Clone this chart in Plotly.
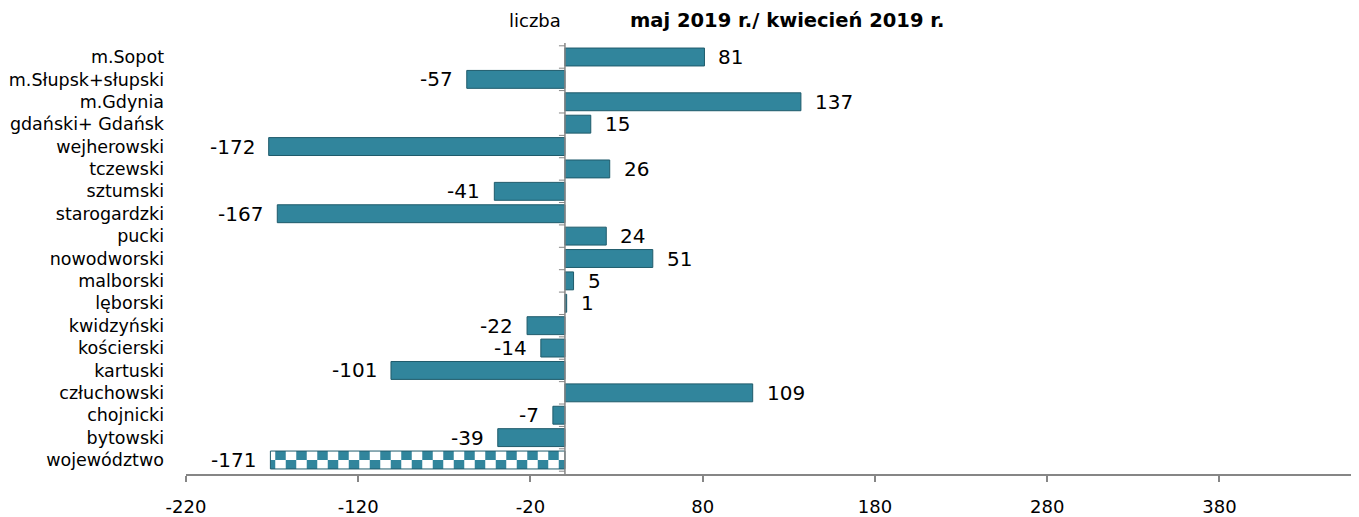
import plotly.graph_objects as go

categories = ["m.Sopot", "m.Słupsk+słupski", "m.Gdynia", "gdański+ Gdańsk", "wejherowski",
              "tczewski", "sztumski", "starogardzki", "pucki", "nowodworski", "malborski",
              "lęborski", "kwidzyński", "kościerski", "kartuski", "człuchowski", "chojnicki",
              "bytowski", "województwo"]
values = [81, -57, 137, 15, -172, 26, -41, -167, 24, 51, 5, 1, -22, -14, -101, 109, -7, -39, -171]
x_ticks = [-220, -120, -20, 80, 180, 280, 380]
title_text = "maj 2019 r./ kwiecień 2019 r."
unit_text = "liczba"

TEAL = "#31859C"
EDGE = "#1F5B6B"
GRAY = "#868686"
FONT = "DejaVu Sans"

# page has an 8px body margin; figure coordinates are page coordinates minus 8
W, H = 1351, 509
ML, MR, MT, MB = 177.5, 0, 34.6, 42.6
PW, PH = W - ML - MR, H - MT - MB
BW = 0.8  # bar thickness in category units

fig = go.Figure()
fig.add_trace(go.Bar(
    y=categories[:-1], x=values[:-1], orientation="h", width=BW,
    marker=dict(color=TEAL, line=dict(color=EDGE, width=1)),
    showlegend=False, hoverinfo="x+y",
))
# checkerboard total bar: two half-height striped bars with swapped colours
fig.add_trace(go.Bar(
    y=categories[-1:], x=values[-1:], orientation="h", width=BW / 2, offset=-BW / 2,
    marker=dict(color=TEAL, line=dict(width=0),
                pattern=dict(shape="|", fgcolor=TEAL, bgcolor="white", size=21,
                             solidity=0.5, fillmode="replace")),
    showlegend=False, hoverinfo="x+y",
))
fig.add_trace(go.Bar(
    y=categories[-1:], x=values[-1:], orientation="h", width=BW / 2, offset=0,
    marker=dict(color=TEAL, line=dict(width=0),
                pattern=dict(shape="|", fgcolor="white", bgcolor=TEAL, size=21,
                             solidity=0.5, fillmode="replace")),
    showlegend=False, hoverinfo="skip",
))
fig.add_trace(go.Bar(
    y=categories[-1:], x=values[-1:], orientation="h", width=BW,
    marker=dict(color="rgba(0,0,0,0)", line=dict(color=EDGE, width=1)),
    showlegend=False, hoverinfo="skip",
))

anns = []
for c, v in zip(categories, values):
    anns.append(dict(x=v, y=c, xref="x", yref="y", text=str(v), showarrow=False,
                     xanchor="left" if v >= 0 else "right",
                     xshift=12 if v >= 0 else -12,
                     font=dict(family=FONT, size=20, color="black")))

def px(xp):
    return (xp - 8 - ML) / PW

def py(yp):
    return (H - MB - (yp - 8)) / PH

anns.append(dict(x=px(787.5), y=py(20), xref="paper", yref="paper",
                 text="<b>" + title_text + "</b>", showarrow=False,
                 xanchor="center", yanchor="middle",
                 font=dict(family=FONT, size=19.5, color="black")))
anns.append(dict(x=px(535), y=py(20), xref="paper", yref="paper",
                 text=unit_text, showarrow=False, xanchor="center", yanchor="middle",
                 font=dict(family=FONT, size=18, color="black")))

# vertical axis at zero with small ticks at category boundaries
shapes = [dict(type="line", xref="x", yref="paper", x0=0, x1=0, y0=0, y1=1,
               line=dict(color=GRAY, width=1.5))]
for i in range(len(categories) + 1):
    shapes.append(dict(type="line", xref="x", yref="y", xsizemode="pixel", xanchor=0,
                       x0=-6, x1=0, y0=i - 0.5, y1=i - 0.5,
                       line=dict(color=GRAY, width=1)))

fig.update_layout(
    width=W, height=H,
    margin=dict(l=ML, r=MR, t=MT, b=MB, autoexpand=False),
    paper_bgcolor="white", plot_bgcolor="white",
    barmode="overlay",
    shapes=shapes, annotations=anns,
    font=dict(family=FONT, color="black"),
    xaxis=dict(range=[-220, 461], tickvals=x_ticks, ticktext=[str(t) for t in x_ticks],
               showgrid=False, zeroline=False, showline=True, linecolor=GRAY, linewidth=1.5,
               ticks="outside", ticklen=6, tickcolor=GRAY, tickwidth=1.5,
               ticklabelstandoff=10, automargin=False,
               tickfont=dict(family=FONT, size=18, color="black")),
    yaxis=dict(categoryorder="array", categoryarray=categories, autorange="reversed",
               showgrid=False, zeroline=False, showline=False, ticks="",
               ticklabelstandoff=21, automargin=False,
               tickfont=dict(family=FONT, size=17.5, color="black")),
)

fig.write_html("out.html")
